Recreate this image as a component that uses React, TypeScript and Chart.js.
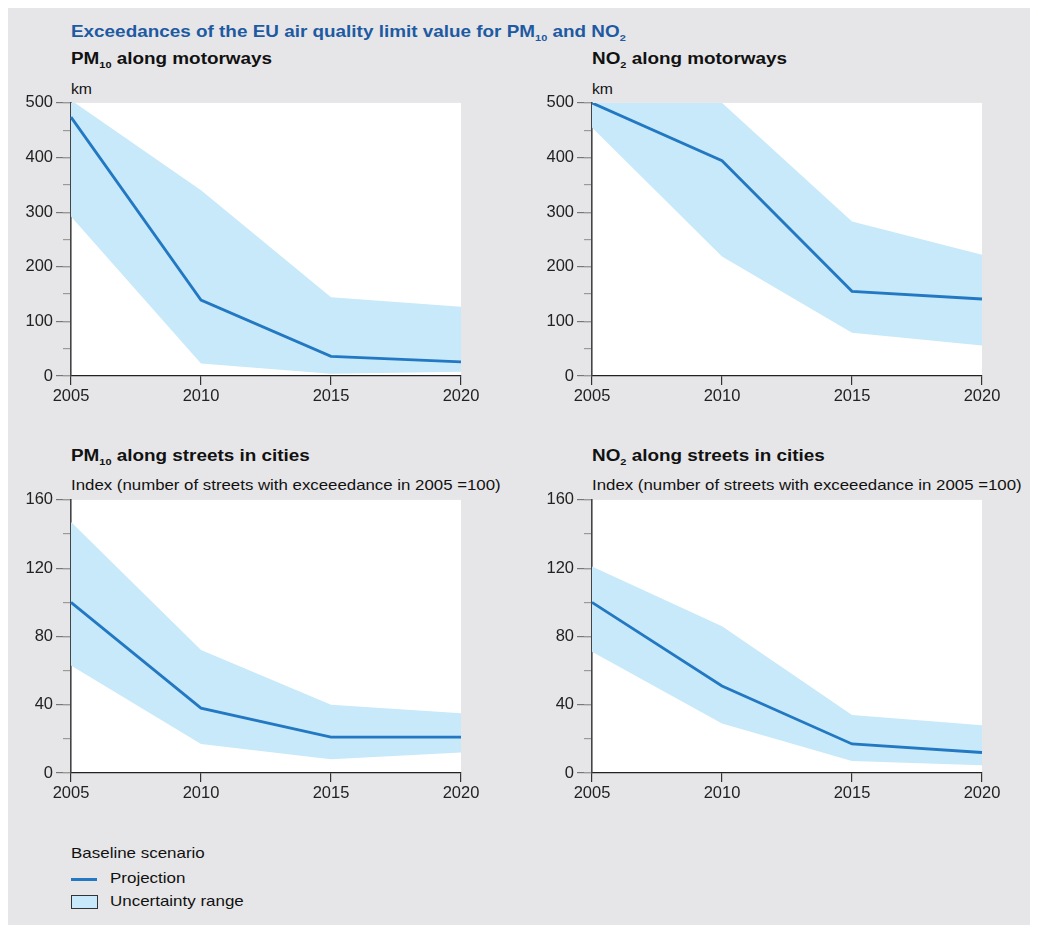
import React, { useEffect, useRef } from "react";
import { Chart, registerables } from "chart.js";

Chart.register(...registerables);

const years = ["2005", "2010", "2015", "2020"];

const pm10MotorwayProjection = [474, 139, 36, 26];
const pm10MotorwayHigh = [505, 340, 144, 127];
const pm10MotorwayLow = [292, 23, 4, 8];

const no2MotorwayProjection = [500, 394, 155, 141];
const no2MotorwayHigh = [510, 500, 283, 222];
const no2MotorwayLow = [455, 219, 79, 56];

const pm10StreetProjection = [100, 38, 21, 21];
const pm10StreetHigh = [147, 72, 40, 35];
const pm10StreetLow = [63, 17, 8, 12];

const no2StreetProjection = [100, 51, 17, 12];
const no2StreetHigh = [121, 86, 34, 28];
const no2StreetLow = [71, 29, 7, 4.5];

const kmTicks = { max: 500, major: 100, minor: 50 };
const indexTicks = { max: 160, major: 40, minor: 20 };

const FONT = '"Liberation Sans", Arial, Helvetica, sans-serif';
const LINE_COLOR = "#2278c2";
const BAND_COLOR = "#c7e9f9";
const BG = "#e6e6e8";

const whiteArea = {
  id: "whiteArea",
  beforeDraw(chart: any) {
    const { ctx, chartArea } = chart;
    ctx.save();
    ctx.fillStyle = "#ffffff";
    ctx.fillRect(chartArea.left, chartArea.top, chartArea.right - chartArea.left, chartArea.bottom - chartArea.top);
    ctx.restore();
  },
};

type PanelProps = {
  left: number;
  top: number;
  proj: number[];
  high: number[];
  low: number[];
  scale: { max: number; major: number; minor: number };
};

function Panel({ left, top, proj, high, low, scale }: PanelProps) {
  const ref = useRef<HTMLCanvasElement | null>(null);
  useEffect(() => {
    if (!ref.current) return;
    const chart = new Chart(ref.current, {
      type: "line",
      data: {
        labels: years,
        datasets: [
          {
            label: "Projection",
            data: proj,
            borderColor: LINE_COLOR,
            borderWidth: 2.8,
            pointRadius: 0,
            fill: false,
            tension: 0,
            yAxisID: "y",
          },
          {
            label: "Uncertainty high",
            data: high,
            borderWidth: 0,
            borderColor: "rgba(0,0,0,0)",
            backgroundColor: BAND_COLOR,
            pointRadius: 0,
            fill: "+1",
            tension: 0,
            yAxisID: "y",
          },
          {
            label: "Uncertainty low",
            data: low,
            borderWidth: 0,
            borderColor: "rgba(0,0,0,0)",
            pointRadius: 0,
            fill: false,
            tension: 0,
            yAxisID: "y",
          },
        ],
      },
      options: {
        animation: false,
        responsive: false,
        maintainAspectRatio: false,
        events: [],
        layout: { padding: { top: 10, right: 27, left: 0, bottom: 0 } },
        plugins: { legend: { display: false }, tooltip: { enabled: false }, title: { display: false } },
        scales: {
          x: {
            type: "category",
            offset: false,
            afterFit: (s: any) => {
              s.height = 30;
            },
            grid: { drawOnChartArea: false, drawTicks: true, tickLength: 9, tickColor: "#333", lineWidth: 1.2 },
            border: { display: true, color: "#222", width: 1.3 },
            ticks: {
              color: "#222",
              font: { family: FONT, size: 16.5 },
              padding: 2,
              maxRotation: 0,
              autoSkip: false,
            },
          },
          y: {
            type: "linear",
            position: "left",
            weight: 1,
            min: 0,
            max: scale.max,
            afterFit: (s: any) => {
              s.width = 63;
            },
            grid: { drawOnChartArea: false, drawTicks: true, tickLength: 15, tickColor: "#777", lineWidth: 1.2 },
            border: { display: true, color: "#444", width: 1.6 },
            ticks: {
              stepSize: scale.major,
              color: "#222",
              font: { family: FONT, size: 16.5 },
              padding: 3,
            },
          },
          yMinor: {
            type: "linear",
            position: "left",
            weight: 0,
            min: 0,
            max: scale.max,
            afterFit: (s: any) => {
              s.width = 0;
            },
            grid: { drawOnChartArea: false, drawTicks: true, tickLength: 8, tickColor: "#9a9a9a", lineWidth: 1.2 },
            border: { display: false },
            ticks: { stepSize: scale.minor, display: false },
          },
        },
      },
      plugins: [whiteArea],
    } as any);
    return () => chart.destroy();
  }, []);
  return (
    <canvas
      ref={ref}
      width={480}
      height={316}
      style={{ position: "absolute", left, top, width: 480, height: 316 }}
    />
  );
}

const sub = (t: string) => (
  <span style={{ fontSize: "0.58em", verticalAlign: "-0.4em", lineHeight: 0 }}>{t}</span>
);

function Text({ x, y, size, bold, color, sx, children }: any) {
  return (
    <div
      style={{
        position: "absolute",
        left: x,
        top: y - size * 0.6,
        fontFamily: FONT,
        fontSize: size,
        fontWeight: bold ? "bold" : "normal",
        color: color || "#111",
        lineHeight: `${size * 1.2}px`,
        whiteSpace: "nowrap",
        transform: `scaleX(${sx || 1})`,
        transformOrigin: "left center",
      }}
    >
      {children}
    </div>
  );
}

export default function App() {
  // container is at page (8,8)
  const o = 8;
  const INDEX = "Index (number of streets with exceeedance in 2005 =100)";
  return (
    <div style={{ position: "relative", width: 1022, height: 917, background: BG, overflow: "hidden" }}>
      <Text x={71 - o} y={32 - o} size={16.5} sx={1.145} bold color="#1e5aa2">
        Exceedances of the EU air quality limit value for PM{sub("10")} and NO{sub("2")}
      </Text>

      <Text x={71 - o} y={59 - o} size={16} sx={1.18} bold>
        PM{sub("10")} along motorways
      </Text>
      <Text x={592 - o} y={59 - o} size={16} sx={1.18} bold>
        NO{sub("2")} along motorways
      </Text>
      <Text x={71 - o} y={89 - o} size={15} sx={1.05}>km</Text>
      <Text x={592 - o} y={89 - o} size={15} sx={1.05}>km</Text>

      <Panel left={0} top={82} proj={pm10MotorwayProjection} high={pm10MotorwayHigh} low={pm10MotorwayLow} scale={kmTicks} />
      <Panel left={521} top={82} proj={no2MotorwayProjection} high={no2MotorwayHigh} low={no2MotorwayLow} scale={kmTicks} />

      <Text x={71 - o} y={456 - o} size={16} sx={1.18} bold>
        PM{sub("10")} along streets in cities
      </Text>
      <Text x={592 - o} y={456 - o} size={16} sx={1.18} bold>
        NO{sub("2")} along streets in cities
      </Text>
      <Text x={71 - o} y={486 - o} size={14.5} sx={1.16}>{INDEX}</Text>
      <Text x={592 - o} y={486 - o} size={14.5} sx={1.16}>{INDEX}</Text>

      <Panel left={0} top={479} proj={pm10StreetProjection} high={pm10StreetHigh} low={pm10StreetLow} scale={indexTicks} />
      <Panel left={521} top={479} proj={no2StreetProjection} high={no2StreetHigh} low={no2StreetLow} scale={indexTicks} />

      <Text x={71 - o} y={853 - o} size={15} sx={1.13}>Baseline scenario</Text>
      <div style={{ position: "absolute", left: 71 - o, top: 878 - o, width: 26, height: 3, background: LINE_COLOR }} />
      <Text x={110 - o} y={878 - o} size={15} sx={1.13}>Projection</Text>
      <div
        style={{
          position: "absolute",
          left: 71 - o,
          top: 895 - o,
          width: 25,
          height: 12,
          background: BAND_COLOR,
          border: "1px solid #333",
        }}
      />
      <Text x={110 - o} y={901 - o} size={15} sx={1.13}>Uncertainty range</Text>
    </div>
  );
}
